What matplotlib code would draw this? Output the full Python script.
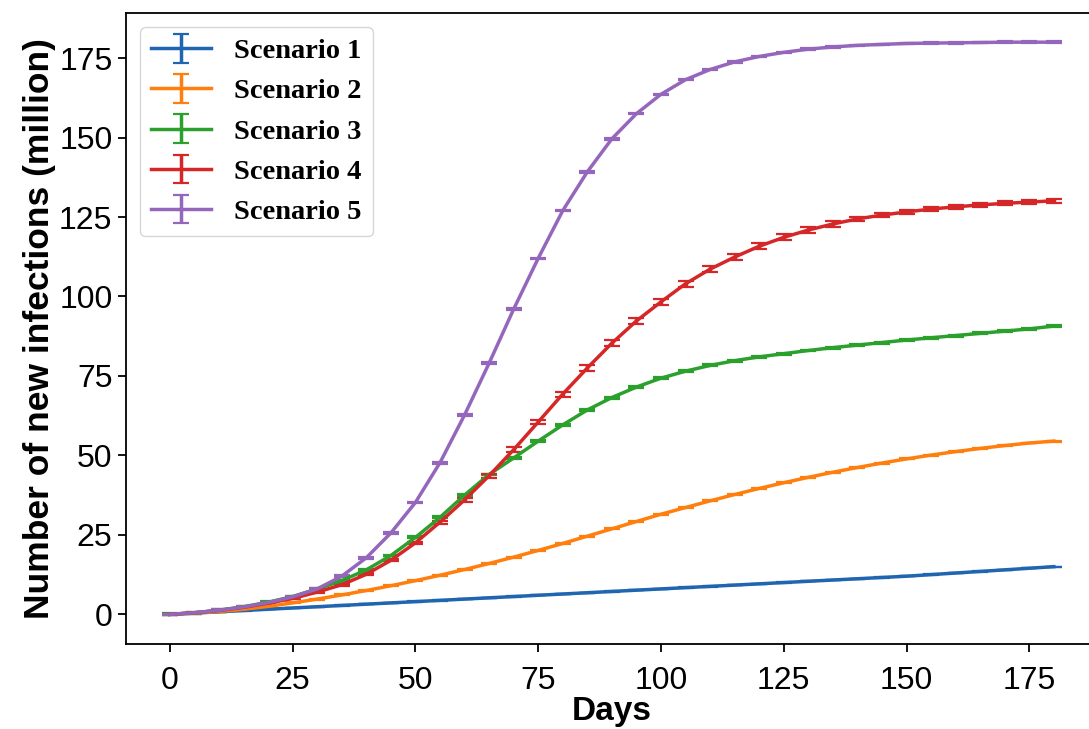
import matplotlib.pyplot as plt

# days since start, one sample every 5 days
days = list(range(0, 185, 5))

# cumulative new infections (million) per scenario
scenario1 = [0.0, 0.4, 0.8, 1.2, 1.6, 2.0, 2.4, 2.8, 3.2, 3.6, 4.0, 4.4, 4.8,
             5.2, 5.6, 6.0, 6.4, 6.8, 7.2, 7.6, 8.0, 8.4, 8.8, 9.2, 9.6, 10.0,
             10.4, 10.8, 11.2, 11.6, 12.0, 12.5, 13.0, 13.5, 14.0, 14.5, 15.0]
scenario2 = [0.0, 0.4, 0.9, 1.6, 2.5, 3.6, 4.8, 6.1, 7.5, 9.0, 10.6, 12.3, 14.1,
             16.0, 18.0, 20.1, 22.3, 24.6, 26.9, 29.2, 31.5, 33.6, 35.7, 37.7,
             39.6, 41.4, 43.1, 44.7, 46.2, 47.6, 48.9, 50.1, 51.2, 52.2, 53.1,
             53.9, 54.5]
scenario3 = [0.0, 0.5, 1.3, 2.4, 3.8, 5.6, 8.0, 10.6, 14.0, 18.5, 24.2, 30.5,
             37.5, 44.0, 49.2, 54.5, 59.6, 64.3, 68.2, 71.5, 74.3, 76.5, 78.3,
             79.8, 81.0, 82.0, 83.0, 83.9, 84.7, 85.5, 86.3, 87.0, 87.7, 88.4,
             89.1, 89.8, 90.7]
scenario4 = [0.0, 0.5, 1.2, 2.2, 3.5, 5.0, 7.0, 9.3, 12.6, 17.0, 22.5, 29.0,
             36.0, 43.6, 51.8, 60.5, 69.3, 77.5, 85.3, 92.3, 98.3, 104.0, 108.6,
             112.4, 115.8, 118.6, 120.9, 122.8, 124.4, 125.6, 126.6, 127.5,
             128.2, 128.8, 129.3, 129.7, 130.1]
scenario5 = [0.0, 0.5, 1.3, 2.3, 3.7, 5.5, 8.0, 12.0, 17.8, 25.6, 35.2, 47.7,
             62.7, 79.0, 96.0, 112.0, 127.0, 139.2, 149.6, 157.5, 163.6, 168.2,
             171.4, 173.8, 175.5, 176.8, 177.8, 178.5, 179.0, 179.3, 179.6,
             179.7, 179.8, 179.9, 180.0, 180.0, 180.0]

# spread across runs
err1 = 0.05
err2 = 0.15
err3 = 0.3
err4 = [0.0, 0.0, 0.05, 0.1, 0.1, 0.15, 0.2, 0.25, 0.3, 0.35, 0.4, 0.45, 0.5,
        0.6, 0.7, 0.75, 0.8, 0.85, 0.9, 0.95, 1.0, 1.0, 1.0, 1.0, 0.95, 0.9,
        0.85, 0.8, 0.75, 0.7, 0.7, 0.65, 0.65, 0.6, 0.6, 0.6, 0.6]
err5 = 0.25

labels = ["Scenario 1", "Scenario 2", "Scenario 3", "Scenario 4", "Scenario 5"]
series = [scenario1, scenario2, scenario3, scenario4, scenario5]
errors = [err1, err2, err3, err4, err5]
colors = ["#1f65b0", "#ff7f0e", "#2ca02c", "#d62728", "#9467bd"]

fig = plt.figure(figsize=(10.89, 7.29), dpi=100)
ax = fig.add_axes([0.1154, 0.1166, 0.8929, 0.866])

for vals, err, lab, c in zip(series, errors, labels, colors):
    ax.errorbar(days, vals, yerr=err, lw=2.5, capsize=5.5, capthick=1.6,
                color=c, label=lab)

ax.set_xticks([0, 25, 50, 75, 100, 125, 150, 175])
ax.set_yticks([0, 25, 50, 75, 100, 125, 150, 175])
ax.tick_params(labelsize=23, length=6, width=1.3)
ax.tick_params(axis="x", pad=10)
for lbl in ax.get_xticklabels() + ax.get_yticklabels():
    lbl.set_family("Liberation Sans")
for sp in ax.spines.values():
    sp.set_linewidth(1.3)

ax.set_xlabel("Days", fontsize=24, fontweight="bold", family="Liberation Sans",
              labelpad=0)
ax.set_ylabel("Number of new infections (million)", fontsize=25.5,
              fontweight="bold", family="Liberation Sans", labelpad=2)

ax.legend(loc="upper left", handlelength=2.1,
          prop={"family": "Liberation Serif", "weight": "bold", "size": 20.5})

plt.savefig("out.png", dpi=100)
